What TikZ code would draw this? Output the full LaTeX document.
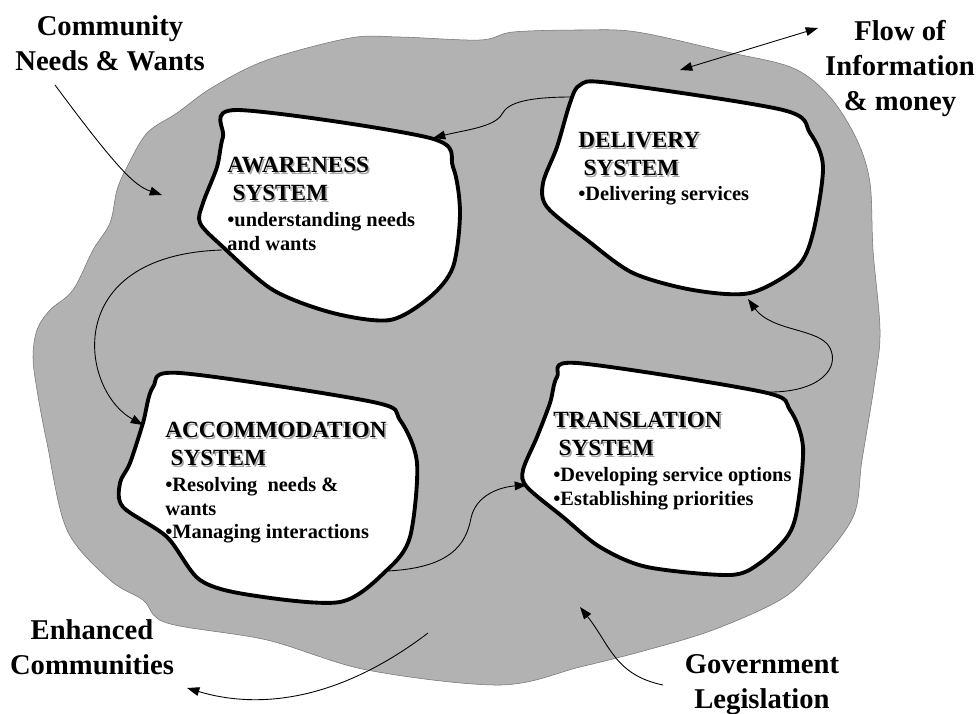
\documentclass[tikz,border=0pt]{standalone}
\usepackage{fontspec}
\setmainfont{Liberation Serif}
\usetikzlibrary{arrows.meta}
\tikzstyle{arrow} = [line width=0.5pt,->,>={Triangle[length=7pt,width=5pt]}]
\tikzstyle{twoway} = [line width=0.5pt,<->,>={Triangle[length=7pt,width=5pt]}]
\tikzstyle{world} = [fill=black!30, draw=black!55, line width=0.3pt]
\tikzstyle{blob} = [fill=white, draw=black, line width=2.2pt]
\tikzstyle{biglabel} = [font=\fontsize{16.3}{19.8}\selectfont\bfseries, align=center, anchor=north, inner sep=0pt]
\tikzstyle{systext} = [font=\fontsize{11.6}{13.6}\selectfont\bfseries, align=left, anchor=north west, inner sep=0pt]
\newcommand{\sysname}[1]{{\fontsize{13.2}{15.9}\selectfont
        \rlap{\hspace{0.9pt}\raisebox{-0.9pt}{\color{black!35}#1}}#1}}

\begin{document}
\begin{tikzpicture}[x=0.02cm, y=-0.02cm]

        \useasboundingbox (0,0) rectangle (979,713);

        \draw[world] plot[smooth cycle, tension=0.55] coordinates {
                (147,133) (177,113) (213,87) (267,60) (350,38) (400,37) (480,40) (513,32)
                (580,30) (637,32) (727,52) (793,68) (830,97) (857,140) (870,183) (873,250)
                (880,330) (875,380) (862,460) (853,517) (813,570) (780,600) (713,630)
                (647,650) (580,667) (500,685) (367,670) (267,640) (167,623) (143,600)
                (110,580) (67,530) (47,443) (37,390) (33,357) (37,330) (50,310) (73,290)
                (93,250) (110,223) (117,190) (127,167)};

        % the four systems
        \draw[blob] plot[smooth cycle, tension=0.5] coordinates {
                (237,110) (430,138) (453,167) (460,213) (453,267) (430,297) (390,320)
                (333,313) (273,290) (223,247) (200,223) (203,203) (217,167) (223,137)};
        \draw[blob] plot[smooth cycle, tension=0.5] coordinates {
                (580,85) (610,83) (783,110) (810,133) (823,167) (813,233) (797,267)
                (750,293) (693,290) (633,273) (587,240) (547,207) (543,183) (557,147) (570,103)};
        \draw[blob] plot[smooth cycle, tension=0.5] coordinates {
                (180,373) (373,402) (400,420) (417,463) (410,537) (387,570) (340,602)
                (250,595) (200,580) (167,537) (123,507) (120,483) (130,463) (143,423) (153,387)};
        \draw[blob] plot[smooth cycle, tension=0.5] coordinates {
                (577,363) (763,392) (790,410) (803,447) (797,510) (787,537) (760,563)
                (730,575) (647,567) (600,547) (563,517) (527,487) (523,470) (537,437)
                (550,403) (557,377)};

        \node at (227,157) [systext](awareness) {\sysname{AWARENESS}\\[2.3pt]
                \sysname{\hspace{3pt}SYSTEM}\\[0.9pt] •understanding needs\\and wants};
        \node at (578,132) [systext](delivery) {\sysname{DELIVERY}\\[2.3pt]
                \sysname{\hspace{3pt}SYSTEM}\\[0.9pt] •Delivering services};
        \node at (165,422) [systext](accommodation) {\sysname{ACCOMMODATION}\\[2.3pt]
                \sysname{\hspace{3pt}SYSTEM}\\[0.9pt] •Resolving\ \ needs \&\\wants\\•Managing interactions};
        \node at (553,412) [systext](translation) {\sysname{TRANSLATION}\\[2.3pt]
                \sysname{\hspace{3pt}SYSTEM}\\[0.9pt] •Developing service options\\•Establishing priorities};

        \node at (110,15) [biglabel](community) {Community\\Needs \& Wants};
        \node at (900,20) [biglabel](flow) {Flow of\\Information\\\& money};
        \node at (92,619) [biglabel](enhanced) {Enhanced\\Communities};
        \node at (762,654) [biglabel](government) {Government\\Legislation};

        \coordinate (com-a) at (55,85);
        \coordinate (com-b) at (162,195);
        \coordinate (flow-a) at (680,70);
        \coordinate (flow-b) at (818,28);
        \coordinate (del-out) at (572,97);
        \coordinate (aw-in) at (433,138);
        \coordinate (aw-out) at (222,250);
        \coordinate (acc-in) at (143,425);
        \coordinate (acc-out) at (387,571);
        \coordinate (tr-in) at (527,485);
        \coordinate (tr-out) at (770,392);
        \coordinate (del-in) at (748,299);
        \coordinate (gov-a) at (663,685);
        \coordinate (gov-b) at (580,607);
        \coordinate (enh-a) at (428,633);
        \coordinate (enh-b) at (187,688);

        \draw[arrow] (com-a) .. controls (118,170) and (135,186) .. (com-b);
        \draw[twoway] (flow-a) -- (flow-b);
        \draw[arrow] (del-out) .. controls (530,97) and (508,102) .. (502,114)
                .. controls (495,127) and (465,130) .. (aw-in);
        \draw[arrow] (aw-out) .. controls (60,255) and (80,390) .. (acc-in);
        \draw[arrow] (acc-out) .. controls (450,568) and (466,545) .. (471,518)
                .. controls (476,495) and (500,487) .. (tr-in);
        \draw[arrow] (tr-out) .. controls (820,392) and (840,368) .. (830,348)
                .. controls (820,328) and (772,332) .. (del-in);
        \draw[arrow] (gov-a) .. controls (615,675) and (610,645) .. (gov-b);
        \draw[arrow] (enh-a) .. controls (340,700) and (260,710) .. (enh-b);

    \end{tikzpicture}
\end{document}
